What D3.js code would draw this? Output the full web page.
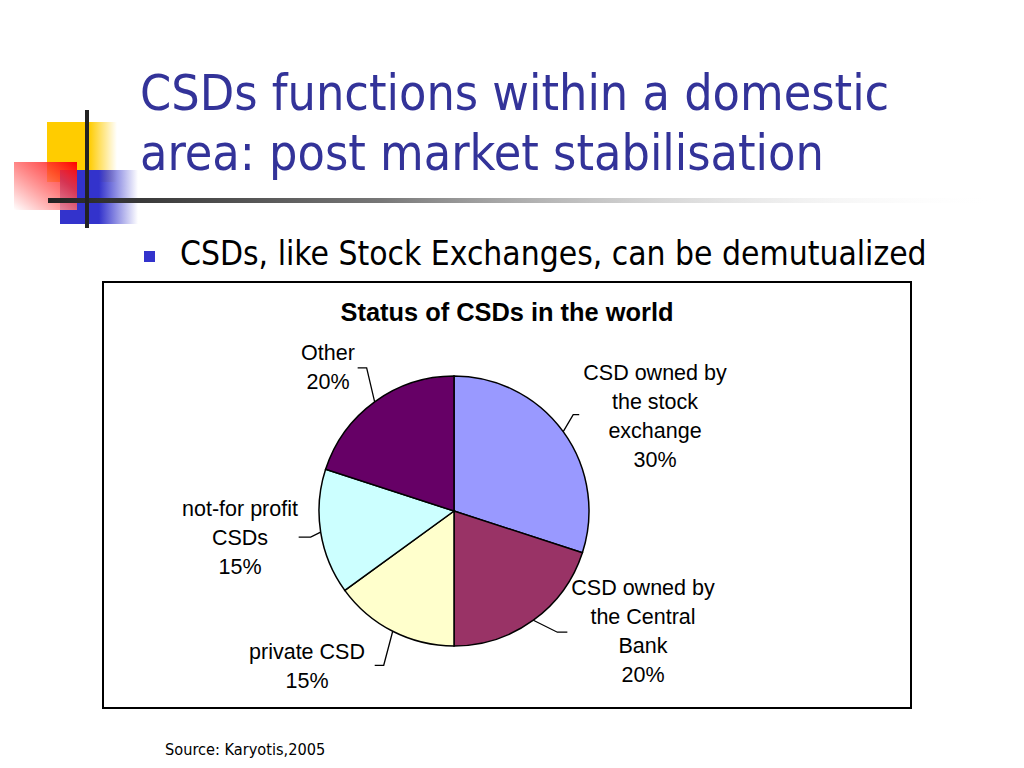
<!DOCTYPE html>
<html>
<head>
<meta charset="utf-8">
<script src="https://cdn.jsdelivr.net/npm/d3@7"></script>
<style>
  body { margin: 0; background: #fff; }
  svg { display: block; }
</style>
</head>
<body>
<svg width="1024" height="768"></svg>
<script>
// slice data, clockwise from 12 o'clock
const categories = ['CSD owned by the stock exchange', 'CSD owned by the Central Bank', 'private CSD', 'not-for profit CSDs', 'Other'];
const shares = [30, 20, 15, 15, 20];
const labelLines = [
  ['CSD owned by', 'the stock', 'exchange', '30%'],
  ['CSD owned by', 'the Central', 'Bank', '20%'],
  ['private CSD', '15%'],
  ['not-for profit', 'CSDs', '15%'],
  ['Other', '20%']
];
const sliceColors = ['#9999ff', '#993366', '#ffffcc', '#ccffff', '#660066'];

// label placement (layout only): leader elbow/end offsets from the slice edge, text centre + first baseline
const labelLayout = [
  { elbow: [10, -17], end: [16, -17], tx: 655, ty: 380 },
  { elbow: [24, 12], end: [34, 12], tx: 643, ty: 595 },
  { elbow: [-9, 34], end: [-18, 34], tx: 307, ty: 659 },
  { elbow: [-10, 5], end: [-22, 5], tx: 240, ty: 516 },
  { elbow: [-8, -34], end: [-17, -34], tx: 328, ty: 360 }
];

const svg = d3.select('svg');
const defs = svg.append('defs');

function linGrad(id, x1, y1, x2, y2, stops) {
  const g = defs.append('linearGradient').attr('id', id)
    .attr('x1', x1).attr('y1', y1).attr('x2', x2).attr('y2', y2);
  stops.forEach(s => g.append('stop').attr('offset', s[0]).attr('stop-color', s[1]).attr('stop-opacity', s[2]));
}
linGrad('gYellow', 0, 0, 1, 0, [[0, '#ffcc00', 1], [0.6, '#ffcc00', 1], [1, '#ffcc00', 0]]);
linGrad('gBlue', 0, 0, 1, 0, [[0, '#3333cc', 1], [0.5, '#3333cc', 1], [1, '#3333cc', 0]]);
linGrad('gRed', 1, 0, 0, 1, [[0, '#ff0000', 1], [0.3, '#ff3333', 0.8], [1, '#ffffff', 0.9]]);
linGrad('gRule', 0, 0, 1, 0, [[0, '#222', 1], [0.35, '#777', 1], [1, '#fff', 0]]);

// decoration top-left
const deco = svg.append('g');
deco.append('rect').attr('x', 47).attr('y', 122).attr('width', 70).attr('height', 60).attr('fill', 'url(#gYellow)');
deco.append('rect').attr('x', 60).attr('y', 170).attr('width', 78).attr('height', 54).attr('fill', 'url(#gBlue)');
deco.append('rect').attr('x', 14).attr('y', 162).attr('width', 63).attr('height', 48).attr('fill', 'url(#gRed)');
deco.append('rect').attr('x', 48).attr('y', 198).attr('width', 952).attr('height', 5).attr('fill', 'url(#gRule)');
deco.append('rect').attr('x', 85).attr('y', 110).attr('width', 4).attr('height', 118).attr('fill', '#222');

// slide title
const titleFont = '"DejaVu Sans Condensed", "DejaVu Sans", sans-serif';
const title = svg.append('text').attr('fill', '#333399').attr('font-family', titleFont).attr('font-size', 49.8);
title.append('tspan').attr('x', 140).attr('y', 110).text('CSDs functions within a domestic');
title.append('tspan').attr('x', 140).attr('y', 170).text('area: post market stabilisation');

// bullet
svg.append('rect').attr('x', 144).attr('y', 251).attr('width', 11).attr('height', 11).attr('fill', '#3333cc');
svg.append('text').attr('x', 180).attr('y', 265).attr('font-family', titleFont).attr('font-size', 33.3)
  .attr('fill', '#000').text('CSDs, like Stock Exchanges, can be demutualized');

// chart frame
svg.append('rect').attr('x', 103).attr('y', 282).attr('width', 808).attr('height', 426)
  .attr('fill', '#fff').attr('stroke', '#000').attr('stroke-width', 2);

const chartFont = '"Liberation Sans", Arial, sans-serif';
svg.append('text').attr('x', 507).attr('y', 321).attr('text-anchor', 'middle')
  .attr('font-family', chartFont).attr('font-weight', 'bold').attr('font-size', 25.4)
  .text('Status of CSDs in the world');

// pie
const cx = 454, cy = 511, r = 135;
const pie = d3.pie().sort(null).value(d => d)(shares);
const arc = d3.arc().innerRadius(0).outerRadius(r);
const edge = d3.arc().innerRadius(r).outerRadius(r);

const g = svg.append('g').attr('transform', `translate(${cx},${cy})`);
g.selectAll('path.slice').data(pie).enter().append('path')
  .attr('class', 'slice')
  .attr('d', arc)
  .attr('fill', (d, i) => sliceColors[i])
  .attr('stroke', '#000').attr('stroke-width', 1.5);

// leader lines
g.selectAll('path.leader').data(pie).enter().append('path')
  .attr('class', 'leader')
  .attr('fill', 'none').attr('stroke', '#000').attr('stroke-width', 1.3)
  .attr('d', (d, i) => {
    const p = edge.centroid(d), L = labelLayout[i];
    return d3.line()([p, [p[0] + L.elbow[0], p[1] + L.elbow[1]], [p[0] + L.end[0], p[1] + L.end[1]]]);
  });

// labels
labelLines.forEach((lines, i) => {
  const L = labelLayout[i];
  const t = svg.append('text').attr('text-anchor', 'middle')
    .attr('font-family', chartFont).attr('font-size', 21.5).attr('fill', '#000');
  lines.forEach((s, k) => t.append('tspan').attr('x', L.tx).attr('y', L.ty + k * 29).text(s));
});

// source
svg.append('text').attr('x', 165).attr('y', 755).attr('font-family', titleFont).attr('font-size', 16.2)
  .text('Source: Karyotis,2005');
</script>
</body>
</html>
